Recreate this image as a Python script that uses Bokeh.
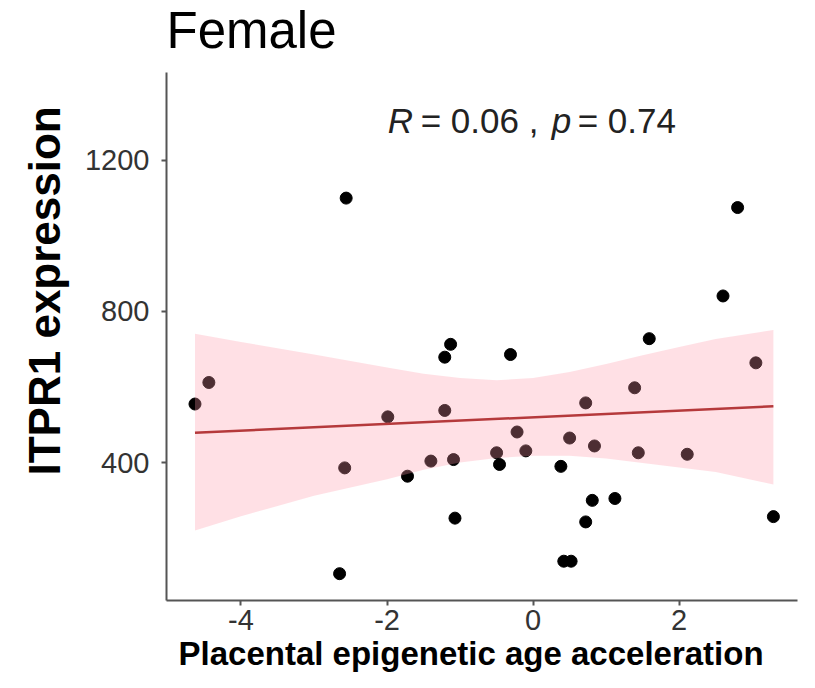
import numpy as np
from bokeh.plotting import figure
from bokeh.models import Label, FixedTicker, Range1d, Title
from bokeh.embed import file_html
from bokeh.resources import INLINE

# ---- data ----
age_accel = [-4.63, -4.44, -2.56, -2.58, -2.65, -1.99, -1.72, -1.40, -1.21, -1.21,
             -1.13, -1.09, -1.07, -0.22, -0.50, -0.46, -0.31, -0.10, 0.38, 0.50,
             0.42, 0.52, 0.72, 0.72, 0.81, 0.84, 1.12, 1.39, 1.44, 1.59,
             2.11, 2.60, 2.80, 3.05, 3.29]
itpr1 = [555, 612, 1100, 386, 106, 521, 364, 404, 538, 679,
         713, 408, 253, 481, 426, 395, 686, 431, 390, 465,
         139, 139, 558, 243, 300, 444, 305, 598, 426, 728,
         422, 841, 1075, 664, 257]

fit_x = [-4.63, 3.29]
fit_y = [479, 549]

band_x = [-4.63, -4.0, -3.0, -2.0, -1.5, -1.0, -0.5, 0.0, 0.5, 1.0, 1.5, 2.0, 2.5, 3.29]
band_upper = [741, 719, 686, 652, 635, 624, 618, 624, 640, 661, 684, 706, 727, 751]
band_lower = [220, 258, 312, 356, 381, 400, 412, 418, 418, 411, 399, 387, 375, 342]

x_ticks = [-4, -2, 0, 2]
y_ticks = [400, 800, 1200]
x_lim = (-5.02, 3.62)
y_lim = (35, 1433)

title_text = "Female"
x_label = "Placental epigenetic age acceleration"
y_label = "ITPR1 expression"
stat_parts = ["R", "= 0.06 ,", "p", "= 0.74"]
stat_x = [-1.99, -1.54, 0.255, 0.61]
stat_y = 1305

FONT = "Liberation Sans"
W, H = 799, 672

# frame spans the full top of the canvas; the axis line is bounded to the data limits
p = figure(width=W, height=H, output_backend="svg", toolbar_location=None,
           x_range=Range1d(*x_lim), y_range=Range1d(y_lim[0], 1623),
           min_border_left=166, min_border_right=2, min_border_top=0,
           min_border_bottom=72)
p.background_fill_color = "white"
p.border_fill_color = "white"
p.outline_line_color = None
p.xgrid.visible = False
p.ygrid.visible = False

for ax in (p.xaxis[0], p.yaxis[0]):
    ax.axis_line_color = "#555555"
    ax.axis_line_width = 2
    ax.major_tick_line_color = "#555555"
    ax.major_tick_line_width = 2
    ax.major_tick_out = 5
    ax.major_tick_in = 0
    ax.minor_tick_line_color = None
    ax.major_label_text_font = FONT
    ax.major_label_text_font_size = "29px"
    ax.major_label_text_color = "#333333"

p.yaxis.bounds = y_lim
p.xaxis.ticker = FixedTicker(ticks=x_ticks)
p.yaxis.ticker = FixedTicker(ticks=y_ticks)
p.xaxis.major_label_overrides = {t: str(t) for t in x_ticks}
p.yaxis.major_label_overrides = {t: str(t) for t in y_ticks}
p.xaxis.major_label_standoff = 4
p.yaxis.major_label_standoff = 12

p.add_layout(Title(text=x_label, text_font=FONT, text_font_size="33px",
                   text_font_style="bold", text_color="black", align="left",
                   offset=12, standoff=0), "below")
p.add_layout(Title(text=y_label, text_font=FONT, text_font_size="44px",
                   text_font_style="bold", text_color="black", align="left",
                   offset=125, standoff=25), "left")

p.scatter(age_accel, itpr1, size=12, color="black")
p.varea(x=band_x, y1=band_lower, y2=band_upper, fill_color="#FF99A8", fill_alpha=0.3)
p.line(fit_x, fit_y, line_color="#B5393B", line_width=2.5)

p.add_layout(Label(x=x_lim[0], y=1544, text=title_text, text_font=FONT,
                   text_font_size="51px", text_color="black",
                   text_baseline="alphabetic"))

for txt, sx, italic in zip(stat_parts, stat_x, [True, False, True, False]):
    p.add_layout(Label(x=sx, y=stat_y, text=txt,
                       text_font=FONT, text_font_size="35px",
                       text_font_style="italic" if italic else "normal",
                       text_color="#222222", text_baseline="alphabetic"))

open("out.html", "w").write(file_html(p, INLINE))
